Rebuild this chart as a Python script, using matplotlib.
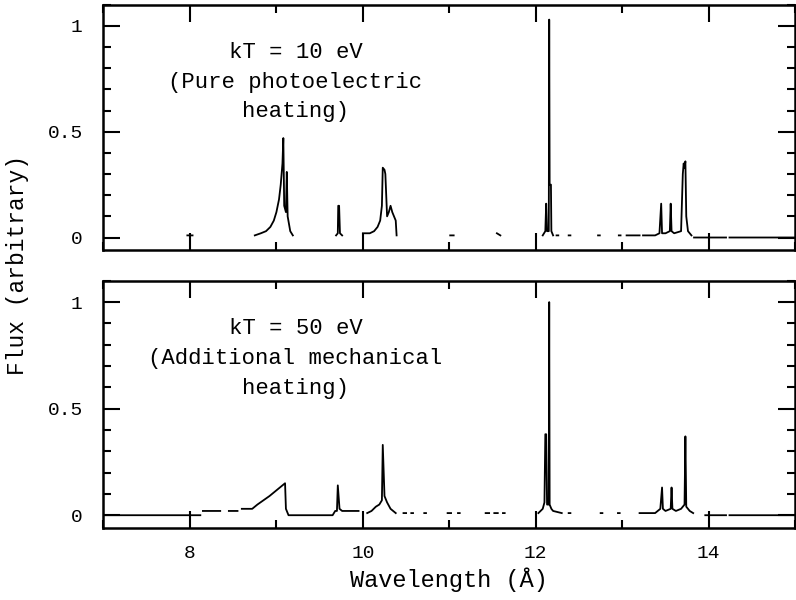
import numpy as np
import matplotlib
matplotlib.use("Agg")
import matplotlib.pyplot as plt
from matplotlib.ticker import MultipleLocator

nan = np.nan

# top panel: kT = 10 eV (pure photoelectric heating)
wl_top = [7.97, 8.03, nan,
          8.75, 8.82, 8.88, 8.93, 8.97, 9.00, 9.03, 9.05, 9.07, 9.08, 9.09, 9.11, 9.12, 9.13, 9.16, 9.19, nan,
          9.69, 9.71, 9.715, 9.725, 9.735, 9.76, nan,
          10.00, 10.08, 10.13, 10.17, 10.20, 10.22, 10.23, 10.25, 10.26, 10.28, 10.30, 10.32, 10.34, 10.36, 10.38, 10.39, nan,
          11.01, 11.05, nan, 11.55, 11.59, nan,
          12.08, 12.11, 12.12, 12.13, 12.15, 12.155, 12.16, 12.175, 12.18, 12.20, nan,
          12.24, 12.26, nan, 12.38, 12.40, nan, 12.72, 12.74, nan, 12.96, 12.98, nan,
          13.05, 13.20, nan, 13.24, 13.38, 13.43, 13.45, 13.46, 13.50, 13.55, 13.56, 13.57, 13.60,
          13.68, 13.70, 13.71, 13.72, 13.73, 13.74, 13.76, 13.80, nan,
          13.83, 14.20, nan, 14.24, 15.0]
fx_top = [0.01, 0.01, nan,
          0.01, 0.02, 0.03, 0.05, 0.08, 0.12, 0.18, 0.25, 0.35, 0.47, 0.15, 0.12, 0.31, 0.10, 0.03, 0.01, nan,
          0.01, 0.02, 0.15, 0.15, 0.02, 0.01, nan,
          0.02, 0.02, 0.03, 0.05, 0.08, 0.15, 0.33, 0.32, 0.30, 0.10, 0.12, 0.15, 0.12, 0.10, 0.08, 0.01, nan,
          0.01, 0.01, nan, 0.02, 0.01, nan,
          0.01, 0.03, 0.16, 0.03, 0.03, 1.03, 0.25, 0.25, 0.03, 0.01, nan,
          0.01, 0.01, nan, 0.01, 0.01, nan, 0.01, 0.01, nan, 0.01, 0.01, nan,
          0.01, 0.01, nan, 0.01, 0.01, 0.02, 0.16, 0.02, 0.02, 0.03, 0.16, 0.03, 0.02,
          0.03, 0.30, 0.35, 0.33, 0.36, 0.10, 0.03, 0.01, nan,
          0.0, 0.0, nan, 0.0, 0.0]

# bottom panel: kT = 50 eV (additional mechanical heating)
wl_bot = [7.0, 8.12, nan,
          8.15, 8.35, nan, 8.45, 8.55, nan, 8.60, 8.72, 8.78, 8.85, 8.92, 8.98, 9.04, 9.10, 9.11, 9.14, 9.65, 9.68,
          9.70, 9.71, 9.73, 9.76, 9.95, nan,
          10.05, 10.10, 10.15, 10.19, 10.22, 10.23, 10.25, 10.28, 10.32, 10.38, nan,
          10.47, 10.50, nan, 10.56, 10.58, nan, 10.71, 10.73, nan, 10.98, 11.02, nan, 11.10, 11.12, nan,
          11.42, 11.46, nan, 11.52, 11.56, nan, 11.62, 11.64, nan,
          12.03, 12.08, 12.10, 12.11, 12.12, 12.13, 12.15, 12.155, 12.16, 12.18, 12.20, 12.30, nan,
          12.38, 12.40, nan, 12.75, 12.77, nan, 12.95, 12.97, nan,
          13.20, 13.38, 13.44, 13.46, 13.47, 13.50, 13.56, 13.57, 13.58, 13.62, 13.68, 13.72, 13.73, 13.74, 13.78, 13.82, nan,
          13.96, 14.20, nan, 14.24, 15.0]
fx_bot = [0.0, 0.0, nan,
          0.02, 0.02, nan, 0.02, 0.02, nan, 0.03, 0.03, 0.05, 0.07, 0.09, 0.11, 0.13, 0.15, 0.03, 0.0, 0.0, 0.02,
          0.02, 0.14, 0.03, 0.02, 0.02, nan,
          0.01, 0.02, 0.04, 0.05, 0.07, 0.33, 0.09, 0.06, 0.03, 0.01, nan,
          0.01, 0.01, nan, 0.01, 0.01, nan, 0.01, 0.01, nan, 0.01, 0.01, nan, 0.01, 0.01, nan,
          0.01, 0.01, nan, 0.01, 0.01, nan, 0.01, 0.01, nan,
          0.01, 0.03, 0.06, 0.38, 0.38, 0.05, 0.05, 1.00, 0.05, 0.03, 0.02, 0.01, nan,
          0.01, 0.01, nan, 0.01, 0.01, nan, 0.01, 0.01, nan,
          0.01, 0.01, 0.03, 0.13, 0.03, 0.02, 0.03, 0.13, 0.03, 0.02, 0.03, 0.05, 0.37, 0.04, 0.02, 0.01, nan,
          0.0, 0.0, nan, 0.0, 0.0]

labels = ["kT = 10 eV\n(Pure photoelectric\nheating)",
          "kT = 50 eV\n(Additional mechanical\nheating)"]

font = "Liberation Mono"

fig = plt.figure(figsize=(7.96, 6.0), dpi=100)
ax_top = fig.add_axes([0.130, 0.583, 0.869, 0.409])
ax_bot = fig.add_axes([0.130, 0.120, 0.869, 0.412])

for ax, wl, fx, lab in [(ax_top, wl_top, fx_top, labels[0]),
                        (ax_bot, wl_bot, fx_bot, labels[1])]:
    ax.plot(wl, fx, color="black", lw=1.3)
    ax.set_xlim(7, 15)
    ax.set_ylim(-0.06, 1.10)
    ax.xaxis.set_major_locator(MultipleLocator(2))
    ax.xaxis.set_minor_locator(MultipleLocator(1))
    ax.yaxis.set_major_locator(MultipleLocator(0.5))
    ax.yaxis.set_minor_locator(MultipleLocator(0.1))
    ax.tick_params(which="both", direction="in", top=True, right=True, width=1.5)
    ax.tick_params(which="major", length=12)
    ax.tick_params(which="minor", length=6)
    ax.tick_params(axis="y", labelsize=14, pad=15)
    ax.tick_params(axis="x", labelsize=14, pad=12)
    ax.set_yticks([0, 0.5, 1])
    ax.set_yticklabels(["0", "0.5", "1"], family=font)
    for s in ax.spines.values():
        s.set_linewidth(1.8)
    ax.text(9.22, 0.735, lab, ha="center", va="center", fontsize=16,
            family=font, linespacing=1.55)

ax_top.tick_params(labelbottom=False)
ax_bot.set_xticks([8, 10, 12, 14])
ax_bot.set_xticklabels(["8", "10", "12", "14"], family=font)
ax_bot.set_xlabel("Wavelength (Å)", fontsize=17, family=font, labelpad=4)
fig.text(0.022, 0.558, "Flux (arbitrary)", rotation=90, ha="center",
         va="center", fontsize=16.5, family=font)

fig.savefig("out.png", dpi=100)
